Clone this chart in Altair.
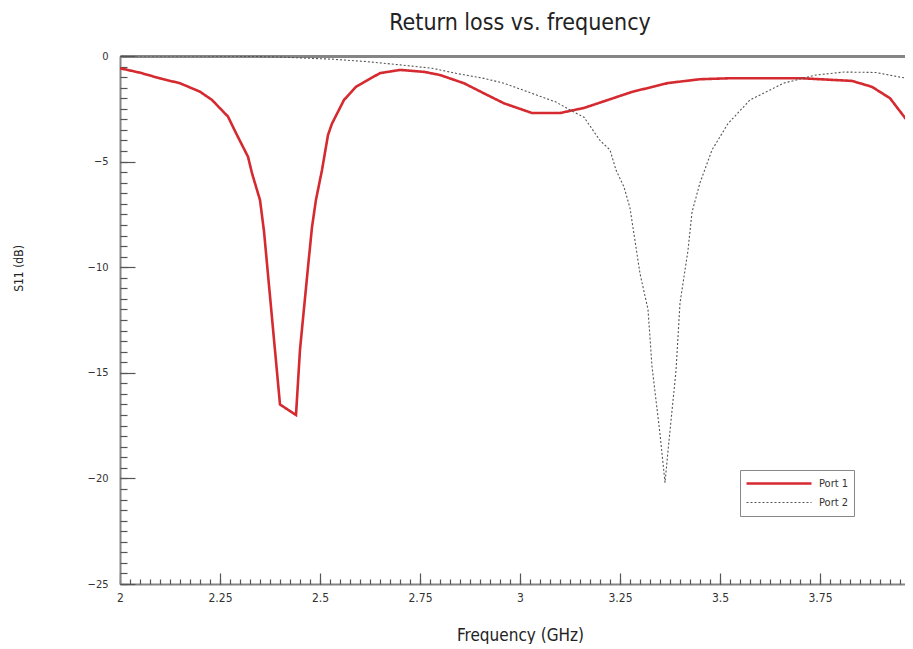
import altair as alt
import pandas as pd

# ---- data ----
freq_p1 = [2.00, 2.05, 2.10, 2.15, 2.20, 2.23, 2.27, 2.29, 2.32, 2.33, 2.35, 2.36, 2.38, 2.40,
           2.44, 2.45, 2.47, 2.48, 2.49, 2.505, 2.52, 2.53, 2.56, 2.59, 2.65, 2.70, 2.76, 2.80,
           2.86, 2.91, 2.96, 3.03, 3.10, 3.16, 3.28, 3.37, 3.45, 3.53, 3.70, 3.83, 3.88, 3.925,
           3.98, 4.00]
s11_p1 = [-0.58, -0.79, -1.06, -1.29, -1.69, -2.08, -2.87, -3.65, -4.77, -5.55, -6.82, -8.3,
          -12.4, -16.5, -17.0, -13.9, -10.0, -8.1, -6.8, -5.4, -3.74, -3.2, -2.08, -1.46, -0.81,
          -0.66, -0.75, -0.9, -1.29, -1.77, -2.24, -2.7, -2.7, -2.46, -1.7, -1.28, -1.1, -1.05,
          -1.05, -1.18, -1.46, -2.0, -3.36, -3.7]

freq_p2 = [2.00, 2.10, 2.20, 2.33, 2.40, 2.53, 2.62, 2.70, 2.78, 2.84, 2.91, 2.96, 3.09, 3.125,
           3.16, 3.20, 3.225, 3.24, 3.26, 3.275, 3.30, 3.32, 3.33, 3.35, 3.3625, 3.37, 3.39,
           3.40, 3.42, 3.43, 3.45, 3.48, 3.52, 3.575, 3.66, 3.74, 3.81, 3.89, 3.95, 3.98, 4.00]
s11_p2 = [0.0, 0.0, 0.0, -0.02, -0.05, -0.15, -0.27, -0.42, -0.58, -0.82, -1.06, -1.29, -2.18,
          -2.56, -2.9, -4.0, -4.45, -5.4, -6.2, -7.2, -10.3, -12.0, -14.7, -17.9, -20.2, -18.7,
          -14.9, -11.7, -9.2, -7.4, -6.0, -4.45, -3.2, -2.08, -1.28, -0.9, -0.76, -0.78, -1.0,
          -1.1, -1.15]

ports = ["Port 1", "Port 2"]
x_major = [2, 2.25, 2.5, 2.75, 3, 3.25, 3.5, 3.75, 4]
y_major = [0, -5, -10, -15, -20, -25]
x_minor = [round(2 + 0.025 * i, 3) for i in range(81)]
y_minor = [-0.5 * i for i in range(51)]

df = pd.concat([
    pd.DataFrame({"freq": freq_p1, "s11": s11_p1, "port": ports[0]}),
    pd.DataFrame({"freq": freq_p2, "s11": s11_p2, "port": ports[1]}),
])

W, H = 800, 528
FONT = "DejaVu Sans Condensed"
RED = "#d42a30"
GRAY = "#555555"
AX = "#858585"

x_scale = alt.Scale(domain=[2, 4], nice=False, zero=False)
y_scale = alt.Scale(domain=[-25, 0], nice=False)

legend = alt.Legend(
    title=None, orient="none", legendX=620, legendY=414,
    symbolType="stroke", symbolSize=4225, clipHeight=17, fillColor="white",
    strokeColor="#888888", padding=5, labelFont=FONT, labelFontSize=11,
    labelColor="#333333", labelOffset=6, rowPadding=2,
)

base = alt.Chart(df)

# top frame line (drawn first so the data sit on top of it)
frame = base.mark_line(opacity=0).encode(
    x=alt.X("freq:Q", scale=x_scale,
            axis=alt.Axis(orient="top", offset=0, values=x_major, labels=False, ticks=False,
                          grid=False, domain=True, domainColor=AX, domainWidth=3, title=None)),
    y=alt.Y("s11:Q", scale=y_scale, axis=None),
    detail="port:N",
)

lines = base.mark_line(clip=True).encode(
    x=alt.X("freq:Q", scale=x_scale,
            axis=alt.Axis(values=x_major, labelExpr="datum.value", ticks=False, grid=False,
                          title="Frequency (GHz)",
                          labelPadding=8, labelFont=FONT, labelFontSize=12, labelColor="#333333",
                          titleFont=FONT, titleFontSize=17, titleFontWeight="normal",
                          titleColor="#222222", titleBaseline="middle", titleY=51,
                          domainColor=AX, domainWidth=2, labelFlush=False)),
    y=alt.Y("s11:Q", scale=y_scale,
            axis=alt.Axis(values=y_major, ticks=False, grid=False, title="S11 (dB)",
                          labelPadding=12, labelFont=FONT, labelFontSize=11, labelColor="#333333",
                          titleFont=FONT, titleFontSize=12, titleFontWeight="normal",
                          titleColor="#222222", titleBaseline="middle", titleX=-102, titleY=212,
                          titleAngle=-90, domainColor=AX, domainWidth=2, labelFlush=False)),
    color=alt.Color("port:N", scale=alt.Scale(domain=ports, range=[RED, GRAY]), legend=legend),
    strokeDash=alt.StrokeDash("port:N", scale=alt.Scale(domain=ports, range=[[1, 0], [2, 2]]),
                              legend=legend),
    strokeWidth=alt.StrokeWidth("port:N", scale=alt.Scale(domain=ports, range=[2.6, 1.1]),
                                legend=legend),
)

major = base.mark_line(opacity=0).encode(
    x=alt.X("freq:Q", scale=x_scale,
            axis=alt.Axis(orient="top", offset=-H, values=x_major, labels=False, domain=False,
                          grid=False, tickSize=11, tickColor=GRAY, tickWidth=1.2, title=None)),
    y=alt.Y("s11:Q", scale=y_scale,
            axis=alt.Axis(orient="right", offset=-W, values=y_major, labels=False, domain=False,
                          grid=False, tickSize=15, tickColor=GRAY, tickWidth=1.2, title=None)),
    detail="port:N",
)

minor = base.mark_line(opacity=0).encode(
    x=alt.X("freq:Q", scale=x_scale,
            axis=alt.Axis(orient="top", offset=-H, values=x_minor, labels=False, domain=False,
                          grid=False, tickSize=5, tickColor=GRAY, tickWidth=1.2, title=None)),
    y=alt.Y("s11:Q", scale=y_scale,
            axis=alt.Axis(orient="right", offset=-W, values=y_minor, labels=False, domain=False,
                          grid=False, tickSize=7, tickColor=GRAY, tickWidth=1.2, title=None)),
    detail="port:N",
)

chart = (
    alt.layer(frame, lines, major, minor)
    .resolve_axis(x="independent", y="independent")
    .properties(
        width=W, height=H,
        title=alt.TitleParams("Return loss vs. frequency", font=FONT, fontSize=23,
                              fontWeight="normal", color="#222222", anchor="middle", offset=15),
        autosize=alt.AutoSizeParams(type="none"),
        padding={"left": 112, "top": 48, "right": -15, "bottom": 60},
    )
    .configure_view(stroke=AX, strokeWidth=3)
    .configure(background="white")
)

chart.save("out.html", embed_options={"renderer": "svg", "actions": False})
